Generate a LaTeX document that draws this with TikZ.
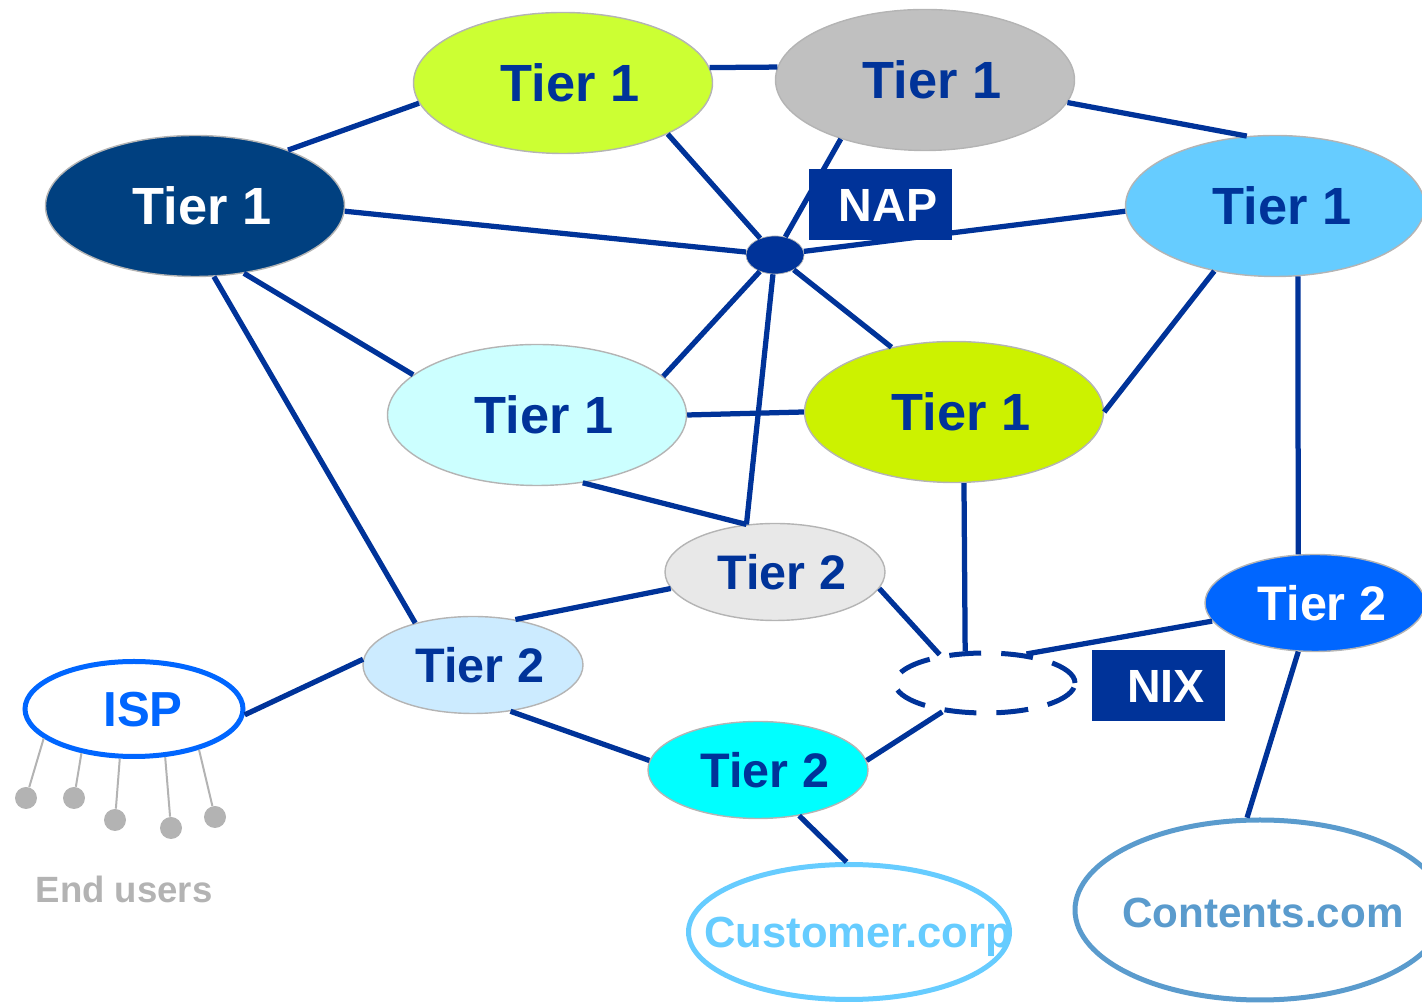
\documentclass[tikz,border=0pt]{standalone}
\usepackage{fontspec}
\setmainfont{Liberation Sans}
\usetikzlibrary{shapes.geometric, positioning}

\definecolor{linkblue}{HTML}{003399}
\definecolor{outline}{HTML}{B4B4B4}
\definecolor{usergray}{HTML}{B3B3B3}
\definecolor{ispblue}{HTML}{0066FF}
\definecolor{custblue}{HTML}{66CCFF}
\definecolor{contblue}{HTML}{5A9BCD}
\definecolor{limegreen}{HTML}{CCFF33}
\definecolor{midgray}{HTML}{C0C0C0}
\definecolor{navyfill}{HTML}{004080}
\definecolor{skyfill}{HTML}{66CCFF}
\definecolor{icefill}{HTML}{CCFFFF}
\definecolor{yellowgreen}{HTML}{CCF200}
\definecolor{palegray}{HTML}{E8E8E8}
\definecolor{paleblue}{HTML}{CCEBFF}
\definecolor{brightcyan}{HTML}{00FFFF}

\tikzset{
	tier/.style={ellipse, draw=outline, line width=0.8pt, inner sep=0pt, text depth=0pt, text=linkblue, execute at begin node=\hspace{0.28cm}},
	tier1/.style={tier, minimum width=5.98cm, minimum height=2.82cm, font=\fontsize{29.8}{31}\selectfont\bfseries},
	tier2/.style={tier, minimum width=4.4cm, minimum height=1.94cm, font=\fontsize{27.6}{29}\selectfont\bfseries},
	site/.style={ellipse, draw, line width=0.1cm, fill=white, inner sep=0pt, text depth=0pt},
	link/.style={draw=linkblue, line width=0.105cm},
	tag/.style={rectangle, fill=linkblue, text=white, minimum height=1.42cm, inner sep=0pt, font=\fontsize{26.5}{28}\selectfont\bfseries, execute at begin node=\hspace{0.32cm}},
	user/.style={circle, fill=usergray, minimum size=0.44cm, inner sep=0pt},
	userline/.style={draw=usergray, line width=0.04cm}
}

\begin{document}
\begin{tikzpicture}
	\useasboundingbox (0,0) rectangle (28.44,20.10);
	
	% Tier 1
	\node [tier1, fill=limegreen] (t1a) at (11.26,18.44) {Tier 1};
	\node [tier1, fill=midgray] (t1b) at (18.50,18.50) {Tier 1};
	\node [tier1, fill=navyfill, text=white] (t1c) at (3.90,15.98) {Tier 1};
	\node [tier1, fill=skyfill] (t1d) at (25.50,15.98) {Tier 1};
	\node [tier1, fill=icefill] (t1e) at (10.74,11.80) {Tier 1};
	\node [tier1, fill=yellowgreen] (t1f) at (19.08,11.86) {Tier 1};
	
	% Tier 2
	\node [tier2, fill=palegray] (t2a) at (15.50,8.66) {Tier 2};
	\node [tier2, fill=paleblue] (t2b) at (9.46,6.80) {Tier 2};
	\node [tier2, fill=ispblue, text=white] (t2c) at (26.30,8.04) {Tier 2};
	\node [tier2, fill=brightcyan] (t2d) at (15.16,4.70) {Tier 2};
	
	% Exchange points
	\node [ellipse, draw=outline, fill=linkblue, minimum width=1.16cm, minimum height=0.76cm] (nap) at (15.50,15.00) {};
	\node [ellipse, draw=linkblue, line width=0.1cm, dash pattern=on 0.64cm off 0.4cm, minimum width=3.6cm, minimum height=1.2cm] (nix) at (19.70,6.44) {};
	
	% Edge sites
	\node [site, draw=ispblue, text=ispblue, minimum width=4.36cm, minimum height=1.9cm, font=\fontsize{28}{29}\selectfont\bfseries, execute at begin node=\hspace{0.36cm}] (isp) at (2.68,5.92) {ISP};
	\node [site, draw=custblue, minimum width=6.42cm, minimum height=2.7cm, label={[text=custblue, font=\fontsize{24.8}{26}\selectfont\bfseries, text depth=0pt, xshift=0.18cm]center:Customer.corp}] (cust) at (16.98,1.46) {};
	\node [site, draw=contblue, minimum width=7.4cm, minimum height=3.6cm, label={[text=contblue, font=\fontsize{24}{25}\selectfont\bfseries, text depth=0pt, xshift=0.06cm, yshift=-0.06cm]center:Contents.com}] (cont) at (25.20,1.90) {};
	
	% Links between tier 1
	\draw [link] (t1a.188) -- (t1c.31);
	\draw [link] (t1a.6) -- (t1b.175);
	\draw [link] (t1b.351) -- (t1d.112);
	\draw [link] (t1c.306) -- (t1e.162);
	\draw [link] (t1e.east) -- (t1f.west);
	\draw [link] (t1d.227) -- (t1f.east);
	
	% Links to NAP
	\draw [link] (t1c.358) -- (nap);
	\draw [link] (t1d.182) -- (nap);
	\draw [link] (t1a.334) -- (nap);
	\draw [link] (t1b.215) -- (nap);
	\draw [link] (nap) -- (t1e.17);
	\draw [link] (nap) -- (t1f.134);
	\draw [link] (nap) -- (t2a.121);
	
	% Tier 1 down to tier 2
	\draw [link] (t1c.285) -- (t2b.144);
	\draw [link] (t1e.304) -- (t2a.121);
	\draw [link] (t1d.288) -- (t2c.109);
	\draw [link] (t1f.278) -- (nix.122);
	
	% Tier 2 and NIX
	\draw [link] (t2a.351) -- (nix.148);
	\draw [link] (t2c.190) -- (nix.35);
	\draw [link] (t2d.5) -- (nix.214);
	\draw [link] (t2b.47) -- (t2a.189);
	\draw [link] (t2b.309) -- (t2d.175);
	
	% Edge sites
	\draw [link] (isp.357) -- (t2b.177);
	\draw [link] (t2d.312) -- (cust.92);
	\draw [link] (t2c.251) -- (cont.98);
	
	% Labels
	\node [tag, minimum width=2.86cm] (naplabel) at (17.60,16.00) {NAP};
	\node [tag, minimum width=2.66cm] (nixlabel) at (23.16,6.38) {NIX};
	
	% End users
	\node [user] (u1) at (0.52,4.14) {};
	\node [user] (u2) at (1.48,4.14) {};
	\node [user] (u3) at (2.30,3.70) {};
	\node [user] (u4) at (3.42,3.54) {};
	\node [user] (u5) at (4.30,3.76) {};
	\draw [userline] (isp.198) -- (u1);
	\draw [userline] (isp.220) -- (u2);
	\draw [userline] (isp.254) -- (u3);
	\draw [userline] (isp.303) -- (u4);
	\draw [userline] (isp.328) -- (u5);
	\node [text=usergray, font=\fontsize{20.8}{22}\selectfont\bfseries] (users) at (2.48,2.32) {End users};
	
\end{tikzpicture}
\end{document}
